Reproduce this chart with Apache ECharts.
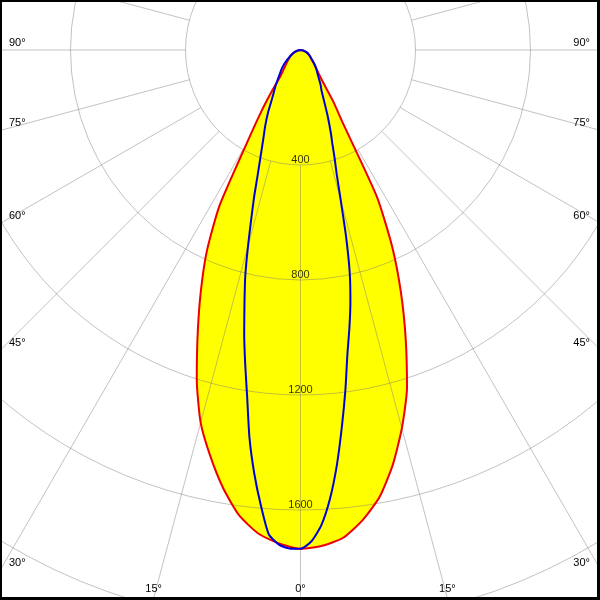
<!DOCTYPE html>
<html>
<head>
<meta charset="utf-8">
<script src="https://cdn.jsdelivr.net/npm/echarts@6/dist/echarts.min.js"></script>
<style>html,body{margin:0;padding:0;background:#fff}#c{width:600px;height:600px}</style>
</head>
<body>
<div id="c"></div>
<script>
// ---- data (gamma in degrees from nadir, intensity in cd) ----
const gammaRed  = [0, 2.5, 5, 7.5, 10, 12.5, 15, 17.5, 20, 22.5, 25, 27.5, 30, 32.5, 35, 37.5, 40, 45, 50, 60, 70, 80, 90];
const redLeft   = [1735, 1718, 1688, 1633, 1548, 1448, 1342, 1200, 1045, 905, 770, 610, 372, 255, 170, 115, 95, 72, 58, 38, 22, 9, 0];
const redRight  = [1735, 1726, 1703, 1650, 1580, 1480, 1362, 1232, 1070, 913, 754, 575, 300, 210, 135, 105, 88, 65, 50, 35, 22, 9, 0];
const gammaBlue = [0, 1.25, 2.5, 3.75, 5, 6.25, 7.5, 8.75, 10, 11.25, 12.5, 13.75, 15, 16.25, 17.5, 18.75, 20, 22.5, 25, 27.5, 30, 35, 40, 45, 50, 60, 70, 80, 90];
const blueLeft  = [1735, 1734, 1722, 1688, 1588, 1480, 1360, 1220, 1108, 1004, 900, 808, 705, 612, 537, 467, 415, 340, 290, 244, 200, 150, 115, 92, 72, 40, 22, 9, 0];
const blueRight = [1735, 1710, 1655, 1565, 1450, 1320, 1195, 1072, 980, 890, 790, 665, 540, 450, 395, 345, 310, 245, 192, 158, 140, 105, 85, 68, 52, 35, 22, 9, 0];
const radiusTicks = [400, 800, 1200, 1600];
const angleLabels = [0, 15, 30, 45, 60, 75, 90];

// ---- layout ----
const W = 600, H = 600;
const cx = 300.5, cy = 50;
const k = 0.2875;           // px per cd
const rMin = 400, rMax = 2400;

function halves(g, vL, vR) {
  const out = [];
  for (let i = g.length - 1; i >= 0; i--) out.push([vL[i], g[i]]);
  for (let i = 1; i < g.length; i++) out.push([vR[i], 360 - g[i]]);
  return out;
}
const redData = halves(gammaRed, redLeft, redRight);
const blueData = halves(gammaBlue, blueLeft, blueRight);

const gridColor = 'rgba(120,120,120,0.45)';
const fontFamily = '"Liberation Sans"';
const font = '11px ' + fontFamily;

// angle labels at border
const graphics = [];
const bottomY = 598;
angleLabels.forEach(g => {
  const sides = g === 0 ? [0] : [-1, 1];
  sides.forEach(s => {
    const rad = g * Math.PI / 180;
    let bx = null;
    if (g < 90) {
      const x = cx + s * (bottomY - cy) * Math.tan(rad);
      if (x >= 0 && x <= W) bx = x;
    }
    if (bx !== null) {
      graphics.push({type: 'text', z: 100, style: {text: g + '°', x: bx, y: 594, font, fill: '#000', align: 'center', verticalAlign: 'bottom'}});
    } else {
      const y = g >= 90 ? cy : cy + cx / Math.tan(rad);
      graphics.push({type: 'text', z: 100, style: {text: g + '°', x: s < 0 ? 9 : 590, y: y - 2, font, fill: '#000', align: s < 0 ? 'left' : 'right', verticalAlign: 'bottom'}});
    }
  });
});
graphics.push({type: 'rect', z: 120, shape: {x: 0, y: 0, width: 599, height: 599}, style: {fill: 'none', stroke: '#000', lineWidth: 4}});

const smooth = 0.2;
const chart = echarts.init(document.getElementById('c'), null, {renderer: 'canvas'});
chart.setOption({
  backgroundColor: '#fff',
  animation: false,
  polar: [
    {center: [cx, cy], radius: [rMin * k, rMax * k]},
    {center: [cx, cy], radius: [0, rMax * k]}
  ],
  angleAxis: [
    {polarIndex: 0, type: 'value', min: 0, max: 360, interval: 15, startAngle: 270, clockwise: true, z: 3,
     axisLine: {show: false}, axisTick: {show: false}, axisLabel: {show: false},
     splitLine: {show: true, lineStyle: {color: gridColor, width: 1}}},
    {polarIndex: 1, type: 'value', min: 0, max: 360, interval: 15, startAngle: 270, clockwise: true,
     axisLine: {show: false}, axisTick: {show: false}, axisLabel: {show: false}, splitLine: {show: false}}
  ],
  radiusAxis: [
    {polarIndex: 0, type: 'value', min: rMin, max: rMax, interval: 400, z: 3,
     axisLine: {show: false}, axisTick: {show: false}, axisLabel: {show: false},
     splitLine: {show: true, lineStyle: {color: gridColor, width: 1}}},
    {polarIndex: 1, type: 'value', min: 0, max: rMax, interval: 400,
     axisLine: {show: false}, axisTick: {show: false}, axisLabel: {show: false}, splitLine: {show: false}}
  ],
  series: [
    {type: 'line', coordinateSystem: 'polar', polarIndex: 1, data: redData, symbol: 'none', z: 1, smooth,
     lineStyle: {width: 0, opacity: 0}, areaStyle: {color: '#ffff00', opacity: 1}, silent: true},
    {type: 'line', coordinateSystem: 'polar', polarIndex: 1, data: redData, symbol: 'none', z: 10, smooth,
     lineStyle: {color: '#ee0000', width: 2}},
    {type: 'line', coordinateSystem: 'polar', polarIndex: 1, data: blueData, symbol: 'none', z: 11, smooth,
     lineStyle: {color: '#0000d8', width: 2}},
    {type: 'scatter', coordinateSystem: 'polar', polarIndex: 1, z: 12, symbolSize: 0,
     data: radiusTicks.map(v => [v, 0]),
     label: {show: true, position: 'top', distance: 0, formatter: p => String(p.value[0]),
             color: '#000', fontFamily: 'Liberation Sans', fontSize: 11}}
  ],
  graphic: graphics
});
</script>
</body>
</html>
